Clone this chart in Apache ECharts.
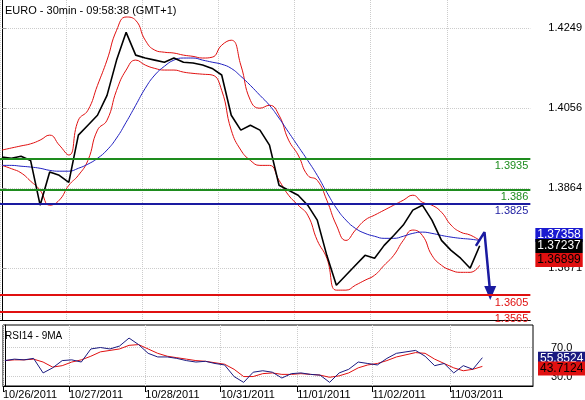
<!DOCTYPE html>
<html>
<head>
<meta charset="utf-8">
<script src="https://cdn.jsdelivr.net/npm/echarts@6/dist/echarts.min.js"></script>
<style>
  html, body { margin: 0; padding: 0; background: #fff; }
  #chart { width: 585px; height: 400px; }
</style>
</head>
<body>
<div id="chart"></div>
<script>
// 30min EURO, sampled every ~3h (index = bar group)
var closes = [1.3938, 1.3935, 1.3940, 1.3930, 1.3822, 1.3902, 1.3894, 1.3877, 1.3991, 1.4015,
  1.4039, 1.4087, 1.4172, 1.4239, 1.4184, 1.4177, 1.4172, 1.4167, 1.4177, 1.4167,
  1.4165, 1.4160, 1.4152, 1.4136, 1.4039, 1.4003, 1.4015, 1.4003, 1.3967, 1.3870,
  1.3858, 1.3846, 1.3822, 1.3786, 1.3701, 1.3629, 1.3653, 1.3677, 1.3701, 1.3694,
  1.3725, 1.3749, 1.3774, 1.3810, 1.3822, 1.3786, 1.3737, 1.3713, 1.3694, 1.3670, 1.3724];
var upperBand = [1.3955, 1.3960, 1.3965, 1.3970, 1.3979, 1.3991, 1.3967, 1.3943, 1.4027, 1.4051,
  1.4111, 1.4172, 1.4244, 1.4276, 1.4268, 1.4220, 1.4196, 1.4191, 1.4189, 1.4184,
  1.4181, 1.4177, 1.4179, 1.4208, 1.4220, 1.4160, 1.4075, 1.4056, 1.4063, 1.4039,
  1.3979, 1.3943, 1.3894, 1.3882, 1.3834, 1.3774, 1.3737, 1.3762, 1.3786, 1.3798,
  1.3810, 1.3822, 1.3834, 1.3846, 1.3829, 1.3822, 1.3805, 1.3774, 1.3757, 1.3750, 1.3737];
var lowerBand = [1.3918, 1.3910, 1.3900, 1.3880, 1.3858, 1.3822, 1.3834, 1.3870, 1.3894, 1.3930,
  1.4003, 1.4027, 1.4099, 1.4148, 1.4172, 1.4160, 1.4152, 1.4148, 1.4148, 1.4143,
  1.4140, 1.4138, 1.4136, 1.4099, 1.4003, 1.3955, 1.3930, 1.3918, 1.3918, 1.3882,
  1.3846, 1.3822, 1.3798, 1.3737, 1.3694, 1.3617, 1.3617, 1.3629, 1.3641, 1.3653,
  1.3677, 1.3701, 1.3737, 1.3762, 1.3749, 1.3701, 1.3677, 1.3665, 1.3660, 1.3660, 1.3677];
var blueMA = [1.3918, 1.3918, 1.3916, 1.3914, 1.3911, 1.3906, 1.3904, 1.3904, 1.3911, 1.3921,
  1.3935, 1.3955, 1.3984, 1.4022, 1.4063, 1.4104, 1.4136, 1.4157, 1.4172, 1.4177,
  1.4177, 1.4172, 1.4167, 1.4162, 1.4152, 1.4133, 1.4111, 1.4087, 1.4063, 1.4032,
  1.3998, 1.3964, 1.3930, 1.3894, 1.3853, 1.3815, 1.3786, 1.3766, 1.3754, 1.3747,
  1.3742, 1.3742, 1.3747, 1.3754, 1.3757, 1.3754, 1.3749, 1.3745, 1.3742, 1.3740, 1.3737];
var rsi = [52, 54, 53, 55, 35, 42, 52, 53, 50, 68, 70, 68, 72, 83, 74, 62, 57, 57, 55, 52,
  50, 51, 48, 46, 30, 22, 36, 38, 36, 28, 34, 35, 33, 32, 22, 35, 40, 50, 48, 46,
  55, 62, 64, 66, 58, 45, 48, 35, 45, 40, 56];
var rsiMA = [52, 53, 53, 54, 50, 43, 45, 50, 53, 58, 64, 66, 68, 73, 74, 68, 62, 58, 56, 54,
  52, 51, 49, 47, 40, 30, 30, 34, 35, 33, 33, 34, 33, 32, 29, 31, 35, 42, 46, 48,
  52, 57, 60, 63, 62, 54, 48, 42, 38, 40, 44];
var arrowPath = [[49.6, 1.3724], [50.5, 1.3757], [51.1, 1.3610]];
var levels = [
  { value: 1.3935, color: "#1e8c1e", label: "1.3935" },
  { value: 1.386, color: "#1e8c1e", label: "1.386" },
  { value: 1.3825, color: "#1a1aa0", label: "1.3825" },
  { value: 1.3605, color: "#e01010", label: "1.3605" },
  { value: 1.3565, color: "#e01010", label: "1.3565" }
];
var priceTicks = [1.4249, 1.4056, 1.3864, 1.3671];
var dateTicks = [-0.2, 6.7, 14.7, 22.6, 30.6, 38.5, 46.6];
var dateLabels = ["10/26/2011", "10/27/2011", "10/28/2011", "10/31/2011", "11/01/2011", "11/02/2011", "11/03/2011"];
var tags = [
  { value: 1.37358, bg: "#1a1ad0", color: "#fff", dy: -6 },
  { value: 1.37237, bg: "#000", color: "#fff", dy: 0 },
  { value: 1.36899, bg: "#e01010", color: "#000", dy: 0 }
];
var rsiTags = [
  { value: 55.8524, bg: "#1a1a80", color: "#fff", dy: 1 },
  { value: 43.7124, bg: "#e01010", color: "#000", dy: 2 }
];

function pairs(arr) { return arr.map(function (v, i) { return [i, v]; }); }

var font = "Liberation Sans";
var chart = echarts.init(document.getElementById("chart"));

var xBase = {
  type: "value", min: -0.2, max: 55.3,
  axisLine: { show: false }, axisTick: { show: false }, axisLabel: { show: false },
  splitLine: { show: false }
};

function tagLines(list, fmtDigits) {
  return list.map(function (t) {
    return {
      yAxis: t.value,
      lineStyle: { color: "rgba(0,0,0,0)", width: 1 },
      label: {
        show: true, position: "end", distance: 5,
        formatter: t.value.toFixed(fmtDigits),
        backgroundColor: t.bg, color: t.color, padding: [1, 2],
        fontFamily: font, fontSize: 12, offset: [0, t.dy || 0]
      }
    };
  });
}

chart.setOption({
  animation: false,
  textStyle: { fontFamily: font },
  title: [
    { text: "EURO - 30min - 09:58:38 (GMT+1)", left: 0, top: 0, textStyle: { fontSize: 11, fontWeight: "normal", color: "#000" } },
    { text: "RSI14 - 9MA", left: 0, top: 326, textStyle: { fontSize: 10, fontWeight: "normal", color: "#000" } }
  ],
  grid: [
    { left: 0, top: 0, width: 533, height: 320 },
    { left: 0, top: 325, width: 533, height: 62, show: true, borderColor: "#000", borderWidth: 1 }
  ],
  xAxis: [
    Object.assign({ gridIndex: 0 }, xBase, {
      axisLine: { show: true, onZero: false, lineStyle: { color: "#000" } },
      splitLine: { show: true, lineStyle: { color: "#ccc", type: "dotted" } },
      axisTick: { show: false, customValues: dateTicks },
      axisLabel: { show: false, customValues: dateTicks }
    }),
    Object.assign({ gridIndex: 1 }, xBase, {
      axisLine: { show: true, onZero: false, lineStyle: { color: "#000" } },
      axisTick: { show: true, length: 6, lineStyle: { color: "#000" }, customValues: dateTicks },
      axisLabel: {
        show: true, customValues: dateTicks, align: "left", margin: 3,
        fontSize: 11, color: "#000",
        formatter: function (v) {
          var k = dateTicks.indexOf(v);
          return k >= 0 ? dateLabels[k] : "";
        }
      },
      splitLine: { show: true, lineStyle: { color: "#ccc", type: "dotted" } }
    })
  ],
  yAxis: [
    {
      gridIndex: 0, type: "value", position: "right", min: 1.3545, max: 1.4317,
      axisLine: { show: true, lineStyle: { color: "#000" } },
      axisTick: { show: true, length: 4, customValues: priceTicks, lineStyle: { color: "#999" } },
      axisLabel: { customValues: priceTicks, color: "#000", fontSize: 11, margin: 18, formatter: function (v) { return v.toFixed(4); } },
      splitLine: { show: true, lineStyle: { color: "#ccc", type: "dotted" } }
    },
    {
      gridIndex: 1, type: "value", position: "right", min: 17, max: 101,
      axisLine: { show: true, lineStyle: { color: "#000" } },
      axisTick: { show: false, customValues: [30, 70] },
      axisLabel: { customValues: [30, 70], color: "#000", fontSize: 11, margin: 18, formatter: function (v) { return v.toFixed(1); } },
      splitLine: { show: true, lineStyle: { color: "#ccc", type: "dotted" } }
    }
  ],
  series: [
    { type: "line", xAxisIndex: 0, yAxisIndex: 0, data: pairs(upperBand), smooth: true, symbol: "none", lineStyle: { color: "#e01010", width: 1 } },
    { type: "line", xAxisIndex: 0, yAxisIndex: 0, data: pairs(lowerBand), smooth: true, symbol: "none", lineStyle: { color: "#e01010", width: 1 } },
    { type: "line", xAxisIndex: 0, yAxisIndex: 0, data: pairs(blueMA), smooth: true, symbol: "none", lineStyle: { color: "#2020c0", width: 1 } },
    {
      type: "line", xAxisIndex: 0, yAxisIndex: 0, data: pairs(closes), symbol: "none", clip: false,
      lineStyle: { color: "#000", width: 1.6 },
      markLine: {
        silent: true, symbol: "none", precision: 6,
        data: levels.map(function (l) {
          return {
            yAxis: l.value,
            lineStyle: { color: l.color, width: 2, type: "solid" },
            label: { show: true, position: "insideEndBottom", formatter: l.label, color: l.color, fontSize: 11, distance: [2, 2] }
          };
        }).concat(tagLines(tags, 5))
      }
    },
    {
      type: "line", xAxisIndex: 0, yAxisIndex: 0, symbol: "none",
      data: arrowPath.map(function (p, i) {
        return i === arrowPath.length - 1
          ? { value: p, symbol: "triangle", symbolSize: [12, 14], symbolRotate: 180, itemStyle: { color: "#1a1aa0" } }
          : p;
      }),
      lineStyle: { color: "#1a1aa0", width: 2.5 }
    },
    { type: "line", xAxisIndex: 1, yAxisIndex: 1, data: pairs(rsiMA), symbol: "none", lineStyle: { color: "#e01010", width: 1 } },
    {
      type: "line", xAxisIndex: 1, yAxisIndex: 1, data: pairs(rsi), symbol: "none", clip: false,
      lineStyle: { color: "#1a1a80", width: 1 },
      markLine: { silent: true, symbol: "none", precision: 6, data: tagLines(rsiTags, 4) }
    }
  ]
});
</script>
</body>
</html>
